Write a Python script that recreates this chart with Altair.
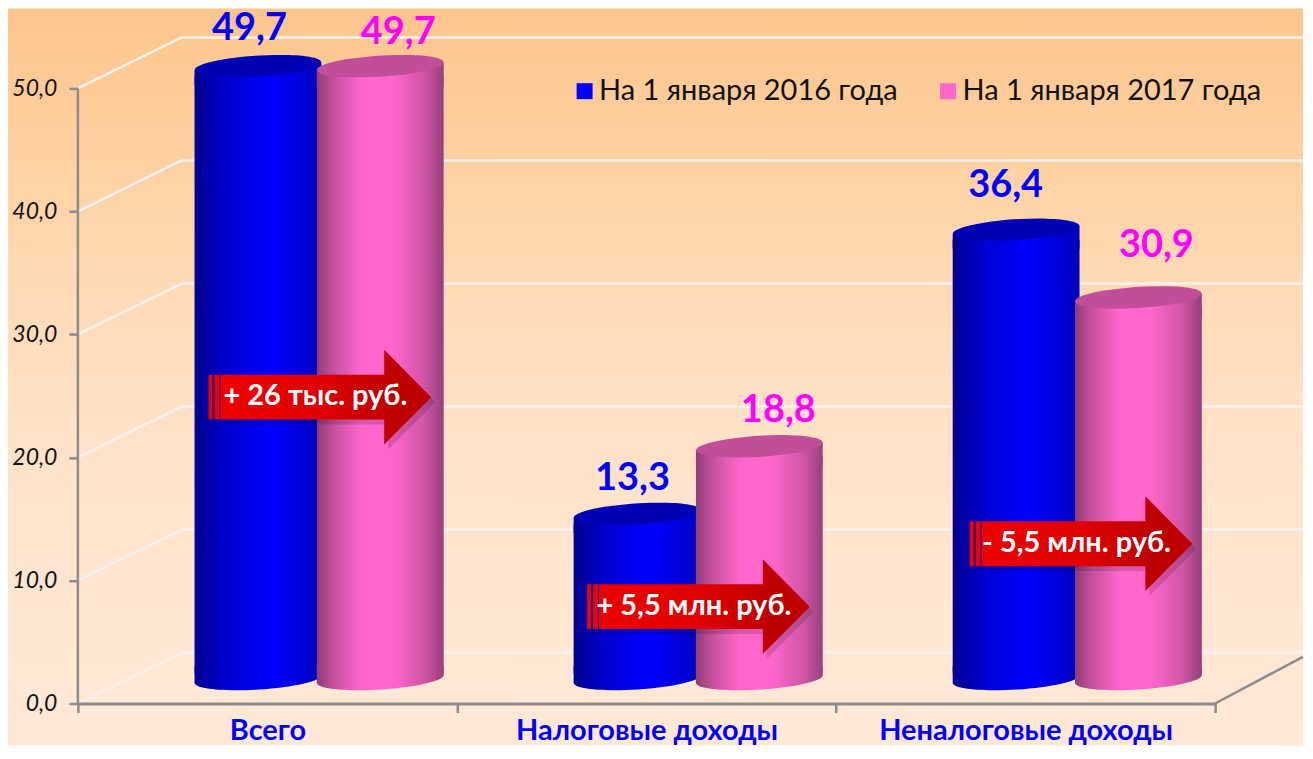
import altair as alt
import pandas as pd

categories = ["Всего", "Налоговые доходы", "Неналоговые доходы"]
values_2016 = [49.7, 13.3, 36.4]
values_2017 = [49.7, 18.8, 30.9]
labels_2016 = ["49,7", "13,3", "36,4"]
labels_2017 = ["49,7", "18,8", "30,9"]
series_names = ["На 1 января 2016 года", "На 1 января 2017 года"]
series_colors = ["#0000FF", "#FF66CC"]
levels = [0, 10, 20, 30, 40, 50]
arrow_texts = ["+ 26 тыс. руб.", "+ 5,5 млн. руб.", "- 5,5 млн. руб."]
arrow_levels = [24.9, 7.87, 12.99]
arrow_dx = [59, 58.5, 62]
DEPTH = 4.14
FONT = "Lato"

df16 = pd.DataFrame({"cat": categories, "v": values_2016, "zero": 0})
df17 = pd.DataFrame({"cat": categories, "v": values_2017, "zero": 0})
grid = pd.DataFrame({"lvl": levels, "back": [l + DEPTH for l in levels]})
floor = pd.DataFrame({"lvl": [0], "back": [DEPTH * 88 / 96], "top": [50]})
legend_df = pd.DataFrame({"series": series_names, "v": [0, 0], "cat": categories[:2]})

Y = alt.Scale(domain=[0, 56.49], nice=False, zero=False)
X = alt.Scale(domain=categories, paddingInner=0, paddingOuter=0)
AX = alt.Axis(
    tickBand="extent", labelAngle=0, labelFontSize=29, labelFont=FONT, labelFontWeight="bold",
    labelColor="#0000FF", labelPadding=4, tickSize=9, tickWidth=2.5, tickColor="#8C8C8C",
    domainColor="#8C8C8C", domainWidth=3, labelOverlap=False, labelLimit=400, zindex=1, grid=False)
AY = alt.Axis(
    values=levels, labelExpr="replace(format(datum.value,'.1f'),'.',',')", labelFontSize=23,
    labelFontStyle="italic", labelFont=FONT, labelColor="#111111", tickSize=9, tickWidth=2.5,
    tickColor="#8C8C8C", domain=False, grid=False, labelPadding=12, zindex=1)


def xe():
    return alt.X("cat:N", scale=X, sort=categories, title=None, axis=AX)


def ye(field="v:Q"):
    return alt.Y(field, scale=Y, title=None, axis=AY)


def grad(stops, vertical=False):
    return alt.Gradient(
        gradient="linear",
        x1=0, y1=0,
        x2=0 if vertical else 1, y2=1 if vertical else 0,
        stops=[alt.GradientStop(offset=o, color=c) for o, c in stops],
    )


bg = alt.Chart(pd.DataFrame({"a": [1]})).mark_rect(
    fill=grad([(0, "#FDC58C"), (0.33, "#FFD8B0"), (0.55, "#FFE1C6"), (0.85, "#FFE7D3"), (1, "#FFE8D6")], True)
).encode(x=alt.value(-70), x2=alt.value(1227), y=alt.value(0), y2=alt.value(738))

GRID = "#F4F2F0"
grid_h = alt.Chart(grid).mark_rule(color=GRID, strokeWidth=2.5).encode(
    x=alt.value(104), x2=alt.value(1227), y=ye("back:Q"))
grid_d = alt.Chart(grid).mark_rule(color=GRID, strokeWidth=2.5).encode(
    x=alt.value(0), x2=alt.value(104), y=ye("lvl:Q"), y2="back:Q")
floor_r = alt.Chart(floor).mark_rule(color="#8C8C8C", strokeWidth=2.5).encode(
    x=alt.value(1139), x2=alt.value(1227), y=ye("lvl:Q"), y2="back:Q")
y_line = alt.Chart(floor).mark_rule(color="#8C8C8C", strokeWidth=2.5).encode(
    x=alt.value(0), y=ye("lvl:Q"), y2="top:Q")

legend_layer = alt.Chart(legend_df).mark_square(opacity=0, size=1).encode(
    x=xe(), y=ye(),
    color=alt.Color("series:N", scale=alt.Scale(domain=series_names, range=series_colors), legend=alt.Legend(
        title=None, orient="none", legendX=493, legendY=68, direction="horizontal",
        symbolType="square", symbolSize=256, symbolOpacity=1, symbolStrokeWidth=0,
        labelFont=FONT, labelFontSize=29, labelColor="#111111", labelOffset=0,
        columnPadding=35, labelLimit=400, zindex=1)),
)

TOP = "M-0.998,0.063 A1,0.165 -3.6 1 1 0.998,-0.063 A1,0.165 -3.6 1 1 -0.998,0.063 Z"
TOPBODY = "M-1,0.063 L1,-0.063 L1,0.3 L-1,0.3 Z"
BOTTOM = "M-1,-0.2 L1,-0.2 L1,-0.063 A1,0.165 -3.6 0 1 -1,0.063 Z"
ARROW = ("M-1.01,-0.214 L0.552,-0.214 L0.552,-0.452 L1,0 L0.552,0.452 L0.552,0.214 L-1.01,0.214 Z "
         "M-1.124,-0.214 L-1.086,-0.214 L-1.086,0.214 L-1.124,0.214 Z "
         "M-1.067,-0.214 L-1.02,-0.214 L-1.02,0.214 L-1.067,0.214 Z")


def cylinder(df, dx, body, top):
    b = alt.Chart(df).mark_bar(width=127, xOffset=dx, yOffset=-16, y2Offset=-30, fill=body, strokeWidth=0).encode(
        x=xe(), y=ye(), y2="zero:Q")
    cap = alt.Chart(df).mark_point(shape=BOTTOM, size=127 ** 2, filled=True, fill=body, opacity=1, strokeWidth=0,
                                   xOffset=dx, yOffset=-24.5).encode(x=xe(), y=ye("zero:Q"))
    tb = alt.Chart(df).mark_point(shape=TOPBODY, size=127 ** 2, filled=True, fill=body, opacity=1, strokeWidth=0,
                                  xOffset=dx, yOffset=-26).encode(x=xe(), y=ye())
    t = alt.Chart(df).mark_point(shape=TOP, size=127 ** 2, filled=True, fill=top, opacity=1, strokeWidth=0,
                                 xOffset=dx, yOffset=-26).encode(x=xe(), y=ye())
    return [b, cap, tb, t]


blue = grad([(0, "#00008E"), (0.25, "#0000D0"), (0.6, "#0000FF"), (0.85, "#0000D8"), (1, "#0000B8")])
pink = grad([(0, "#8E3C74"), (0.12, "#C24F9A"), (0.35, "#FF66CC"), (0.6, "#FF66CC"), (0.85, "#CF55A6"), (1, "#96407C")])

bars = cylinder(df16, -9.5, blue, "#0000B4") + cylinder(df17, 113, pink, "#C04E98")

red = grad([(0, "#F00000"), (0.5, "#E00000"), (0.85, "#BC0000"), (1, "#C00000")])
arrows = []
for cat, lvl, dx, txt in zip(categories, arrow_levels, arrow_dx, arrow_texts):
    d = pd.DataFrame({"cat": [cat], "v": [lvl], "t": [txt]})
    arrows.append(alt.Chart(d).mark_point(shape=ARROW, size=210 ** 2, filled=True, fill="#000000", opacity=0.15,
                                          strokeWidth=0, xOffset=dx + 4, yOffset=5).encode(x=xe(), y=ye()))
    arrows.append(alt.Chart(d).mark_point(shape=ARROW, size=210 ** 2, filled=True, fill=red, opacity=1,
                                          strokeWidth=0, xOffset=dx).encode(x=xe(), y=ye()))
    arrows.append(alt.Chart(d).mark_text(font=FONT, fontSize=29, fontWeight="bold", color="#FFFFFF",
                                         xOffset=dx - 11, yOffset=-1).encode(x=xe(), y=ye(), text="t:N"))

value_labels = []
placements = [
    (categories[0], values_2016[0], labels_2016[0], "#0000FF", -18, -37),
    (categories[1], values_2016[1], labels_2016[1], "#0000FF", -14, -35),
    (categories[2], values_2016[2], labels_2016[2], "#0000FF", -20, -44),
    (categories[0], values_2017[0], labels_2017[0], "#FF00FF", 131, -33),
    (categories[1], values_2017[1], labels_2017[1], "#FF00FF", 132, -35),
    (categories[2], values_2017[2], labels_2017[2], "#FF00FF", 131, -51),
]
for cat, v, txt, col, dx, dy in placements:
    d = pd.DataFrame({"cat": [cat], "v": [v], "t": [txt]})
    value_labels.append(alt.Chart(d).mark_text(font=FONT, fontSize=38, fontWeight="bold", color=col,
                                               xOffset=dx, yOffset=dy - 26).encode(x=xe(), y=ye(), text="t:N"))

chart = alt.layer(
    bg, grid_h, grid_d, floor_r, y_line, legend_layer, *bars, *arrows, *value_labels
).properties(width=1139, height=696, padding=0, background="#FFFFFF").configure_view(stroke=None)

chart.save("out.html", embed_options={"renderer": "svg", "actions": False})
